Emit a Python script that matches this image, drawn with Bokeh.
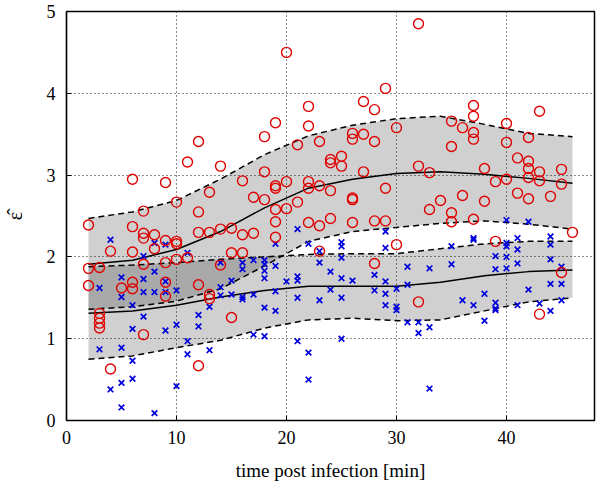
from bokeh.plotting import figure
from bokeh.embed import file_html
from bokeh.resources import INLINE
from bokeh.models import FixedTicker, Range1d

# ---- band curves (fit of each group) ----
band_t = [2, 6, 10, 14, 18, 22, 26, 30, 34, 38, 42, 46]
red_mean = [1.91, 1.96, 2.09, 2.31, 2.60, 2.84, 2.95, 3.02, 3.04, 3.01, 2.96, 2.90]
red_upper = [2.47, 2.55, 2.69, 2.95, 3.25, 3.48, 3.61, 3.69, 3.72, 3.62, 3.51, 3.47]
red_lower = [1.36, 1.39, 1.46, 1.61, 1.89, 2.19, 2.31, 2.36, 2.41, 2.44, 2.40, 2.34]
blue_mean = [1.31, 1.34, 1.41, 1.51, 1.59, 1.64, 1.64, 1.64, 1.69, 1.77, 1.82, 1.84]
blue_upper = [1.88, 1.90, 1.93, 1.97, 2.00, 2.03, 2.04, 2.04, 2.10, 2.16, 2.19, 2.19]
blue_lower = [0.75, 0.79, 0.89, 0.98, 1.13, 1.23, 1.25, 1.22, 1.23, 1.34, 1.45, 1.50]

# ---- red circles ----
red_groups = {
    2: [2.39, 1.86, 1.65],
    3: [1.87, 1.31, 1.25, 1.19, 1.13],
    4: [2.07, 0.63],
    5: [1.62],
    6: [2.95, 2.37, 2.06, 1.69, 1.61],
    7: [2.56, 2.29, 2.23, 1.91, 1.05],
    8: [2.27, 2.10],
    9: [2.91, 2.20, 1.93, 1.69, 1.52],
    10: [2.67, 2.19, 2.16, 1.97],
    11: [3.16, 1.99],
    12: [3.41, 2.55, 2.30, 1.66, 0.67],
    13: [2.79, 2.30, 1.54, 1.49],
    14: [3.11, 2.34, 1.90],
    15: [2.35, 2.05, 1.26],
    16: [2.93, 2.27, 2.05],
    17: [2.73, 2.29],
    18: [3.47, 3.04, 2.70],
    19: [3.64, 2.87, 2.84, 2.58, 2.43, 2.24],
    20: [4.50, 2.92, 2.59],
    21: [3.37, 2.67],
    22: [3.84, 3.60, 2.92, 2.84, 2.42],
    23: [3.41, 2.87, 2.38, 2.07],
    24: [3.19, 3.15, 2.81, 2.47],
    25: [3.23, 3.11],
    26: [3.51, 3.44, 2.72, 2.70, 2.42],
    27: [3.90, 3.50, 3.04],
    28: [3.80, 3.41, 2.44, 1.92],
    29: [4.06, 2.84, 2.44],
    30: [3.58, 2.15],
    32: [4.85, 3.11, 1.45],
    33: [3.03, 2.58],
    34: [2.69],
    35: [3.66, 3.35, 2.54, 2.43],
    36: [3.58, 2.75],
    37: [3.85, 3.72, 3.52, 3.44, 2.46],
    38: [3.08, 2.68],
    39: [2.92, 2.19],
    40: [3.63, 3.40, 2.95],
    41: [3.21, 2.78],
    42: [3.46, 3.17, 3.08, 2.97, 2.71],
    43: [3.78, 3.04, 2.93, 1.30],
    44: [2.74],
    45: [3.07, 2.89, 1.81],
    46: [2.30],
}

# ---- blue crosses ----
blue_groups = {
    3: [1.62, 0.87],
    4: [2.21, 0.38],
    5: [1.75, 1.51, 0.89, 0.46, 0.16],
    6: [1.41, 1.12, 0.73, 0.51],
    7: [2.01, 1.73, 1.57, 1.27],
    8: [2.17, 1.82, 1.57, 0.09],
    9: [2.15, 1.70, 1.57, 1.10],
    10: [1.59, 1.17, 0.42],
    11: [2.05, 0.97, 0.81],
    12: [1.29, 1.15],
    13: [1.39, 0.86],
    14: [1.93, 1.63, 1.53],
    15: [1.71, 1.54],
    16: [1.93, 1.85, 1.51, 1.48],
    17: [1.96, 1.54, 1.05],
    18: [1.96, 1.91, 1.83, 1.74, 1.38, 1.03],
    19: [2.16, 1.89, 1.58, 1.34],
    20: [1.70],
    21: [2.34, 1.76, 1.71, 1.50, 0.97],
    22: [2.16, 0.83, 0.50],
    23: [2.07, 1.93, 1.47],
    24: [1.82, 1.60],
    25: [2.18, 2.13, 1.99, 1.74, 1.50, 1.00],
    26: [1.71],
    28: [1.78, 1.59],
    29: [2.31, 2.11, 1.70, 1.55, 1.41],
    30: [1.61, 1.39, 1.35],
    31: [1.88, 1.66, 1.20],
    32: [1.20, 1.07],
    33: [1.86, 1.14, 0.39],
    35: [2.13, 1.91],
    36: [1.47],
    37: [2.23, 2.21, 1.41],
    38: [1.55, 1.22],
    39: [2.01, 1.85, 1.44, 1.37, 1.35],
    40: [2.45, 2.17, 2.13, 2.00, 1.86],
    41: [2.23, 2.09, 1.92, 1.41],
    42: [2.43, 1.60],
    43: [1.43],
    44: [2.25, 2.15, 1.97, 1.67, 1.34],
    45: [1.88, 1.67, 1.47],
}

x_ticks = [0, 10, 20, 30, 40]
y_ticks = [0, 1, 2, 3, 4, 5]

red_t = [t for t, vs in red_groups.items() for _ in vs]
red_v = [v for t, vs in red_groups.items() for v in vs]
blue_t = [t for t, vs in blue_groups.items() for _ in vs]
blue_v = [v for t, vs in blue_groups.items() for v in vs]

FONT = "Liberation Serif"

p = figure(frame_width=528, frame_height=409, output_backend="svg",
           toolbar_location=None, x_range=Range1d(0, 48), y_range=Range1d(0, 5),
           min_border_left=0, min_border_top=11, min_border_right=4,
           min_border_bottom=0)

# bands
p.varea(x=band_t, y1=red_lower, y2=red_upper, fill_color="black", fill_alpha=0.185)
p.varea(x=band_t, y1=blue_lower, y2=blue_upper, fill_color="black", fill_alpha=0.185)

for ys, dash in [(red_mean, "solid"), (red_upper, "6 4"), (red_lower, "6 4"),
                 (blue_mean, "solid"), (blue_upper, "6 4"), (blue_lower, "6 4")]:
    p.line(band_t, ys, line_color="black", line_width=1.5, line_dash=dash)

p.scatter(blue_t, blue_v, marker="x", size=8, line_color="#0000dd", line_width=1.7)
p.scatter(red_t, red_v, marker="circle", size=10, fill_color=None,
          line_color="#e00000", line_width=1.4)

# axes / grid
p.xaxis.ticker = FixedTicker(ticks=x_ticks)
p.yaxis.ticker = FixedTicker(ticks=y_ticks)
for ax in (p.xaxis, p.yaxis):
    ax.major_tick_in = 5
    ax.major_tick_out = 0
    ax.minor_tick_in = 0
    ax.minor_tick_out = 0
    ax.axis_line_color = "black"
    ax.axis_line_width = 1.2
    ax.major_tick_line_color = "black"
    ax.major_label_text_font = FONT
    ax.major_label_text_font_size = "18px"
    ax.major_label_text_color = "black"
    ax.axis_label_text_font = FONT
    ax.axis_label_text_font_style = "normal"
    ax.axis_label_text_color = "black"
    ax.axis_label_text_font_size = "19px"

p.xaxis.axis_label = "time post infection [min]"
p.yaxis.axis_label = "ε\u0302"
p.yaxis.axis_label_text_font_size = "20px"
p.xaxis.major_label_standoff = 10
p.yaxis.major_label_standoff = 11
p.xaxis.axis_label_standoff = 13
p.yaxis.axis_label_standoff = 18

p.xgrid.ticker = FixedTicker(ticks=[10, 20, 30, 40])
p.ygrid.ticker = FixedTicker(ticks=[1, 2, 3, 4])
for g in (p.xgrid, p.ygrid):
    g.grid_line_color = "black"
    g.grid_line_dash = "1 3"
    g.grid_line_width = 1
    g.grid_line_alpha = 0.9

p.outline_line_color = "black"
p.outline_line_width = 1.5
p.outline_line_alpha = 1
p.background_fill_color = "white"

open("out.html", "w").write(file_html(p, INLINE))
